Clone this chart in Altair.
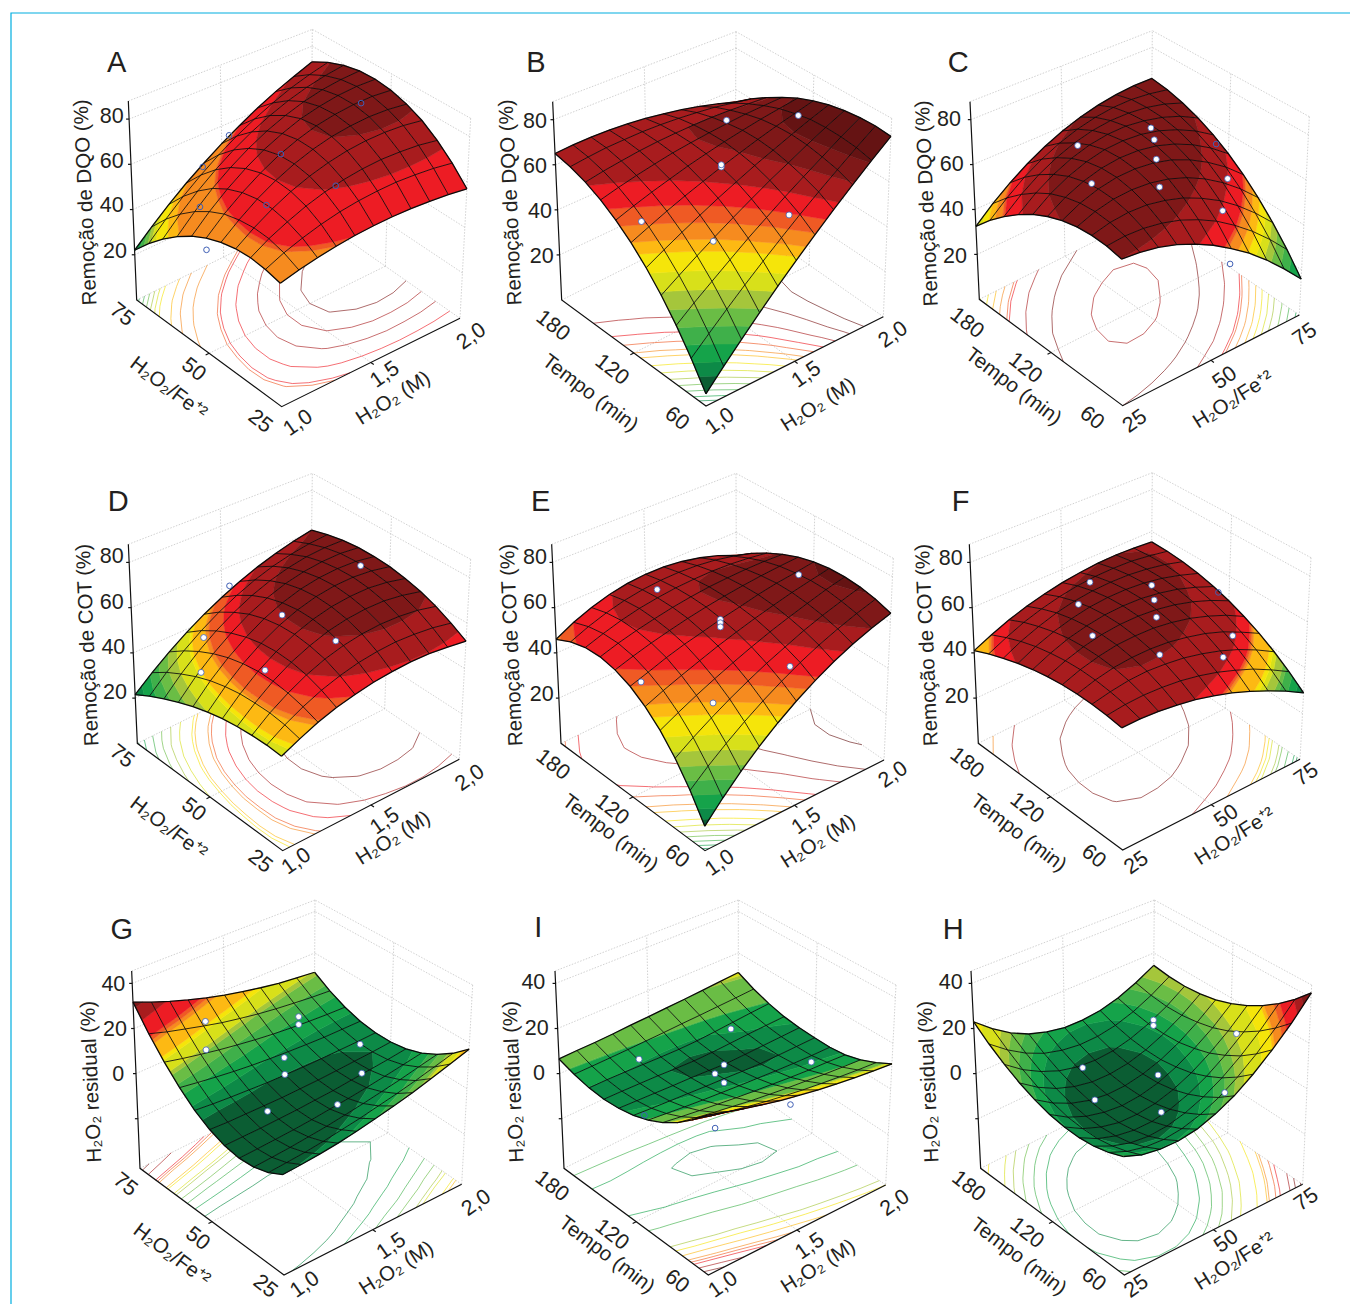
import altair as alt
import pandas as pd

# ---------- surface heights, rows run along the left floor axis, columns along the right floor axis ----------
Z_A = [[50.5,52.7,54.5,56,57.2,58,58.5,58.6,58.4,57.9,57],
[52.2,55.8,58.7,61.2,63.2,64.6,65.5,66,65.8,65.3,64.2],
[53,57.7,61.5,64.9,67.6,69.6,71,71.8,71.8,71.4,70.2],
[52.7,58.2,63,67.1,70.4,73,74.9,76,76.4,76.1,75],
[51.3,57.5,63.1,67.8,71.7,74.8,77.1,78.5,79.3,79.2,78.3],
[49,55.9,61.8,67,71.5,75,77.8,79.6,80.7,81.1,80.5],
[45.6,52.8,59.2,64.8,69.7,73.6,76.9,79.1,80.7,81.5,81.4],
[41.2,48.6,55.3,61.1,66.2,70.6,74.2,77.1,79.2,80.5,81.1],
[35.8,43.2,49.9,55.9,61.3,66,70,73.4,76.1,78.1,79.5],
[29.4,36.6,43.2,49.2,54.8,59.8,64.2,68.1,71.6,74.3,76.6],
[22,28.7,35.2,41.2,46.7,52,56.8,61.4,65.5,69.1,72.5]]
Z_B = [[5,12.7,20.3,27.9,35.5,43,50.5,57.9,65.3,72.7,80],
[15.3,22,28.7,35.4,42,48.6,55.2,61.6,68,74.4,80.7],
[24.7,30.6,36.2,41.9,47.7,53.2,58.8,64.2,69.6,75.2,80.5],
[33.1,38,42.9,47.7,52.5,57.2,61.9,66.3,70.9,75.4,79.7],
[40.5,44.7,48.8,52.8,56.8,60.6,64.4,67.9,71.5,75,78.3],
[47,50.4,53.8,57,60,63,65.8,68.6,71.2,73.6,76],
[52.5,55.3,57.9,60.3,62.7,64.8,66.8,68.6,70.3,71.7,73.1],
[57.1,59.2,61.1,62.8,64.4,65.6,66.7,67.6,68.4,68.9,69.3],
[60.7,62.2,63.4,64.5,65.3,65.8,66.1,66.2,66,65.5,64.9],
[63.3,64.3,65.1,65.4,65.6,65.4,64.9,64.1,63.1,61.5,59.9],
[65,65.5,65.7,65.5,64.9,64,62.7,61.1,59.1,56.7,54]]
Z_C = [[60,59.5,58.3,56.1,52.9,49,44.1,38.5,31.9,24.3,16],
[61.5,62.4,62.3,61.2,59.1,55.9,51.8,46.5,40.3,33,24.7],
[62,64.1,65.1,65,63.6,61.3,57.7,53.2,47.4,40.5,32.5],
[61.6,64.8,66.8,67.5,67.1,65.5,62.7,58.7,53.5,47.1,39.5],
[60.3,64.4,67.2,68.9,69.3,68.5,66.5,63.1,58.5,52.8,45.7],
[58,62.9,66.5,68.9,70.1,70,68.7,66.1,62.3,57.3,51],
[54.8,60.4,64.6,67.7,69.7,70.3,69.8,68,65,60.9,55.5],
[50.6,56.6,61.4,65.1,67.7,69.1,69.4,68.4,66.5,63.5,59.1],
[45.5,51.8,57.1,61.3,64.5,66.7,67.8,67.8,66.9,65,61.9],
[39.5,46,51.7,56.4,60.2,63.1,65.1,66.2,66.4,65.5,63.9],
[32.5,39.1,44.9,50,54.4,58,60.9,63,64.4,65.1,65]]
Z_D = [[38.5,42.2,45.6,48.3,50.3,52,53,53.7,53.7,53,52],
[39,43.9,48,51.5,54.2,56.3,57.6,58.3,58.1,57.4,55.9],
[38.9,44.8,49.7,53.9,57.2,59.6,61.2,62,61.9,61.1,59.3],
[38.4,44.8,50.6,55.3,58.9,61.8,63.6,64.6,64.7,63.7,61.9],
[37.5,44.5,50.7,55.7,59.8,62.9,65,66.1,66.4,65.5,63.7],
[36,43.4,49.8,55.2,59.6,63,65.4,66.8,67.2,66.6,65],
[34.1,41.7,48.2,53.7,58.4,62,64.7,66.3,67,66.8,65.5],
[31.6,39.2,45.7,51.3,56.2,60,63,64.9,66,66.3,65.5],
[28.7,36,42.4,48,52.8,56.9,60.1,62.5,64.1,64.8,64.7],
[25.4,32.3,38.3,43.8,48.6,52.7,56.2,59,61,62.4,63.1],
[21.5,27.7,33.4,38.6,43.3,47.5,51.2,54.4,57.1,59.3,61]]
Z_E = [[10,17.9,25.3,32.1,38.3,44,49.1,53.7,57.7,61.1,64],
[20.4,26.8,32.7,38.3,43.5,48.3,52.8,56.8,60.3,63.5,66.3],
[29.4,34.5,39.2,43.7,47.9,51.9,55.5,59.1,62.2,65,67.7],
[36.8,40.8,44.6,48.2,51.6,54.9,58,60.8,63.5,66.1,68.3],
[42.6,45.9,48.9,51.8,54.7,57.3,59.8,62.1,64.3,66.2,68.1],
[47,49.6,52.4,54.8,56.8,59,60.8,62.8,64.4,65.6,67],
[49.8,52.3,54.6,56.6,58.5,60.1,61.5,62.7,63.7,64.5,65.1],
[51.2,53.7,55.8,57.6,59.2,60.5,61.5,62.1,62.5,62.6,62.3],
[51,53.7,56.1,58,59.3,60.3,60.8,61,60.7,59.9,58.7],
[49.2,52.5,55.2,57.3,58.7,59.5,59.7,59.3,58.3,56.6,54.3],
[46,50.1,53.3,55.7,57.3,58,57.9,56.9,55.1,52.5,49]]
Z_F = [[50,50.3,49.9,49.1,47.9,46,43.7,40.7,37.3,33.5,29],
[51.1,52.2,52.7,52.5,51.8,50.4,48.4,45.7,42.6,38.6,34.1],
[51.7,53.5,54.8,55.3,54.9,54,52.3,50,47,43.2,38.7],
[51.9,54.4,56.2,57.1,57.3,56.8,55.4,53.5,50.7,46.9,42.7],
[51.7,54.7,56.9,58.4,58.9,58.8,57.8,56.1,53.5,50.3,46.1],
[51,54.4,57,58.8,59.8,60,59.4,58,55.8,52.8,49],
[49.9,53.5,56.5,58.5,59.9,60.4,60.2,59.1,57.3,54.6,51.3],
[48.3,52.2,55.2,57.5,59.2,60,60.1,59.5,58.1,55.9,53.1],
[46.3,50.2,53.3,55.9,57.7,58.8,59.2,59,58.1,56.6,54.3],
[43.9,47.6,50.9,53.4,55.4,56.8,57.6,57.8,57.5,56.4,54.9],
[41,44.5,47.7,50.3,52.3,54,55.1,55.9,56.1,55.7,55]]
Z_G = [[-1.3,-.6,.3,1.4,2.9,4.7,6.7,8.9,11.5,14.3,17.3],
[-4.5,-3.8,-3,-1.9,-.5,.9,2.7,4.5,6.6,9,11.5],
[-6.3,-5.7,-5,-4.1,-3.1,-1.8,-.4,1.2,2.9,4.9,6.9],
[-6.7,-6.3,-5.8,-5.2,-4.4,-3.4,-2.4,-1.2,.2,1.7,3.3],
[-5.6,-5.4,-5.2,-4.8,-4.4,-3.7,-3.1,-2.1,-1.2,-.2,1],
[-3,-3.3,-3.3,-3.3,-3.3,-3,-2.7,-2.2,-1.6,-1,-.2],
[1,.3,-.2,-.6,-1,-1.1,-1.2,-1.1,-.9,-.7,-.3],
[6.6,5.4,4.3,3.3,2.5,1.9,1.4,1,.7,.7,.7],
[13.5,11.7,10.1,8.6,7.3,6.1,5.1,4.3,3.7,3.2,2.9],
[21.8,19.3,17.2,15.1,13.1,11.5,10,8.8,7.8,6.9,6.2],
[31.7,28.4,25.4,22.7,20.2,18,16.1,14.3,12.8,11.7,10.7]]
Z_I = [[22.8,20.8,19,17.4,15.9,14.7,13.6,12.7,12,11.4,11],
[17,15.4,14,12.7,11.5,10.5,9.6,8.9,8.3,7.8,7.5],
[12,10.8,9.7,8.8,7.8,7.1,6.4,5.9,5.3,4.9,4.6],
[8.1,7.2,6.4,5.7,5,4.4,3.9,3.4,3,2.9,2.6],
[5.1,4.5,3.9,3.4,3,2.6,2.3,2,1.8,1.7,1.8],
[3,2.6,2.3,2,1.7,1.5,1.2,1,1.2,1.5,1.8],
[1.9,1.7,1.5,1.3,1.2,.9,.6,.9,1.3,1.7,2.1],
[1.6,1.6,1.5,1.4,1.1,.9,1.1,1.6,2.1,2.5,2.9],
[2.3,2.4,2.3,2.1,1.9,1.8,2,2.6,3.3,4,4.6],
[4,4.1,4.3,4.5,4.8,5.1,5.5,5.8,6.2,6.6,7.1],
[6.5,6.8,6.9,7.2,7.7,8,8.5,8.9,9.4,10,10.6]]
Z_H = [[6,3.3,2.3,2.4,3.8,6.8,11,16.8,23.9,32.1,42],
[3.7,.8,-.8,-1.1,0,2.5,6.3,11.6,18.2,26.1,35.4],
[2.3,-1,-3.1,-3.8,-3,-.9,2.5,7.2,13.3,20.8,29.6],
[1.8,-2,-4.3,-5.4,-5.2,-3.5,-.5,3.8,9.5,16.4,24.7],
[2.2,-1.9,-4.7,-6.3,-6.3,-5.2,-2.7,1.1,6.3,12.7,20.6],
[3.4,-1.2,-4.3,-6.1,-6.8,-6,-4,-.5,4.2,10,17.4],
[5.6,.7,-2.9,-5.2,-6.2,-5.9,-4.3,-1.5,2.7,8.3,15],
[8.6,3.3,-.7,-3.4,-4.9,-5,-3.9,-1.4,2.3,7.2,13.5],
[12.5,6.8,2.5,-.7,-2.6,-3.2,-2.6,-.6,2.6,7,12.8],
[17.3,11.3,6.4,2.8,.6,-.5,-.3,1.1,3.8,7.8,13],
[23,16.6,11.2,7.2,4.6,3,2.8,3.6,5.8,9.4,14]]

# experiment points: (position on left axis, position on right axis, height)
PTS_A = [(.5,.84,80),(.95,.5,58),(.5,.41,71.6),(.75,.19,63),(.6,.05,56.5),(.25,.5,65),(.5,.33,52),(.5,0,44)]
PTS_B = [(.8,.78,62),(.5,.92,72),(.5,.5,63),(.5,.5,64),(.5,.06,54),(.1,.54,57),(.3,.29,46)]
PTS_C = [(.9,.5,55.6),(.9,.91,49),(.75,.8,54),(.5,.6,62.7),(.5,.245,64),(.25,.41,67),(.5,1,39.5),(.25,.76,44.5)]
PTS_D = [(.5,.84,71),(.5,.415,63.6),(.75,.19,51),(.25,.5,59.6),(.5,.32,42.8),(.6,.05,47)]
PTS_E = [(.9,.48,56),(.5,.92,64),(.5,.495,58.9),(.5,.495,57.4),(.5,.495,55.6),(.25,.67,42.5),(.5,.06,46.8),(.25,.25,41.7)]
PTS_F = [(.9,.57,56),(.9,.915,42),(.75,.8,46),(.75,.38,59),(.5,.6,56),(.5,.25,60),(.25,.41,56.5),(.4,.94,39.6),(.25,.76,43)]
PTS_G = [(.75,.7,11.6),(.75,.7,8),(.75,.19,27),(.75,.19,14.5),(.75,.62,-4.2),(.65,.54,-4.5),(.5,.83,5),(.35,.715,2.5),(.5,.32,-6.4),(.25,.5,.6)]
PTS_I = [(.9,.36,-2),(.7,.705,8),(.25,.77,9.7),(.5,.5,7.6),(.5,.45,5.4),(.5,.5,-.3)]
PTS_H = [(.75,.785,7),(.75,.785,4.5),(.3,.86,17),(.75,.39,-.4),(.5,.6,-.5),(.25,.76,-3.5),(.5,.25,1),(.25,.41,.5)]
OPEN_C = [(.5,.93,58),(.25,.81,19)]
OPEN_D = [(.9,.46,58.4)]
OPEN_F = [(.5,.94,55)]
OPEN_I = [(.5,.06,1),(.5,.45,-18.4),(.25,.66,-5)]

# ---------- colour bands ----------
PALETTE = ['#0b5d33','#0d8a47','#15a34a','#3fb04a','#6abd45','#a5c63b','#d8e01a','#f5e50a',
           '#fdb913','#f68b1f','#ef5a24','#ed1c24','#a81c1e','#7f1818','#651313']
LEVELS_A = [21,23,25,27,29,31,33,38,42,56,57,68,77,90]
LEVELS_B = [10,14,19,24,29,34,39,44,47,51,55,60,66,72]
LEVELS_C = [14,18,22,26,30,33,36,39,42,45,46,52,60,90]
LEVELS_D = [22,24,27,30,33,36,40,41,45,46,50,54,61,90]
LEVELS_E = [12,15,19,23,27,31,35,40,43,47,50,56,61,67]
LEVELS_F = [30,31,33,35,36,38,39,40,44,44.5,45,48,56,90]
LEVELS_G = [-1,2,5,7.5,10,11,14,15,19,20,21,26,30,36]
LEVELS_I = [1.2,2.4,4.8,4.9,9.5,10,11,13,15,16,17,19,21,25]
LEVELS_H = [-2,2,5,8,11,14,20,24,25,28,30,35,38,41]
EXTRA_CONTOURS = {'A': [(47,'#f68b1f'),(62,'#ed1c24'),(73,'#a81c1e')], 'C': [(68,'#a81c1e')]}

DQO = 'Remoção de DQO (%)'; COT = 'Remoção de COT (%)'; RES = 'H₂O₂ residual (%)'
RATIO = 'H₂O₂/Fe⁺²'; MOL = 'H₂O₂ (M)'; TEMPO = 'Tempo (min)'
RAT_T = ['25','50','75']; MOL_T = ['1,0','1,5','2,0']; TEM_T = ['60','120','180']

# ---------- panel layout, in crop coordinates (crop origin + 3 x px) ----------
PANELS = [
 dict(name='A',o=(60,20),Z=Z_A,L=LEVELS_A,pts=PTS_A,open=PTS_A,F=(665,1160),Lf=(230,840),R=(1200,895),B=(752,582),Lt=(205,243),Rt=(1232,295),Bt=(757,28),Ft=(658,515),
  zr=(0,88),zt=[20,40,60,80],zl=[(165,695),(155,558),(155,425),(155,290)],title=DQO,tp=(78,547),let=(170,130),
  lt=RAT_T,lp=[(600,1205),(400,1050),(185,885)],lti=RATIO,lpt=(325,1105),rt=MOL_T,rp=[(715,1210),(975,1065),(1235,950)],rti=MOL,rpt=(1000,1135)),
 dict(name='B',o=(490,20),Z=Z_B,L=LEVELS_B,pts=PTS_B,open=[],F=(648,1158),Lf=(215,840),R=(1180,890),B=(735,580),Lt=(188,245),Rt=(1205,295),Bt=(738,35),Ft=(643,513),
  zr=(0,88),zt=[20,40,60,80],zl=[(155,710),(150,575),(135,440),(135,305)],title=DQO,tp=(63,547),let=(138,128),
  lt=TEM_T,lp=[(560,1197),(365,1050),(188,918)],lti=TEMPO,lpt=(300,1120),rt=MOL_T,rp=[(690,1205),(950,1065),(1210,945)],rti=MOL,rpt=(985,1155)),
 dict(name='C',o=(910,20),Z=Z_C,L=LEVELS_C,pts=PTS_C,open=OPEN_C,F=(638,1157),Lf=(208,838),R=(1168,885),B=(722,580),Lt=(180,245),Rt=(1198,290),Bt=(727,32),Ft=(633,512),
  zr=(0,88),zt=[20,40,60,80],zl=[(135,710),(125,570),(125,435),(117,300)],title=DQO,tp=(52,550),let=(145,130),
  lt=TEM_T,lp=[(545,1195),(345,1045),(170,910)],lti=TEMPO,lpt=(310,1100),rt=RAT_T,rp=[(675,1205),(945,1075),(1185,945)],rti=RATIO,rpt=(970,1140)),
 dict(name='D',o=(60,460),Z=Z_D,L=LEVELS_D,pts=PTS_D,open=OPEN_D,F=(668,1172),Lf=(232,850),R=(1198,898),B=(750,595),Lt=(205,253),Rt=(1232,298),Bt=(757,40),Ft=(660,525),
  zr=(0,88),zt=[20,40,60,80],zl=[(165,700),(160,565),(155,428),(155,290)],title=COT,tp=(84,555),let=(175,125),
  lt=RAT_T,lp=[(600,1205),(400,1050),(185,890)],lti=RATIO,lpt=(325,1105),rt=MOL_T,rp=[(710,1205),(975,1085),(1230,955)],rti=MOL,rpt=(1000,1135)),
 dict(name='E',o=(490,460),Z=Z_E,L=LEVELS_E,pts=PTS_E,open=[],F=(645,1172),Lf=(213,850),R=(1182,900),B=(740,595),Lt=(185,253),Rt=(1210,295),Bt=(738,40),Ft=(640,525),
  zr=(0,88),zt=[20,40,60,80],zl=[(155,705),(150,567),(135,430),(135,295)],title=COT,tp=(66,555),let=(152,125),
  lt=TEM_T,lp=[(560,1190),(365,1050),(188,915)],lti=TEMPO,lpt=(360,1120),rt=MOL_T,rp=[(690,1210),(950,1085),(1210,945)],rti=MOL,rpt=(985,1145)),
 dict(name='F',o=(910,460),Z=Z_F,L=LEVELS_F,pts=PTS_F,open=OPEN_F,F=(638,1170),Lf=(205,850),R=(1170,898),B=(722,592),Lt=(178,253),Rt=(1203,293),Bt=(727,38),Ft=(633,525),
  zr=(0,88),zt=[20,40,60,80],zl=[(140,710),(135,570),(128,435),(122,298)],title=COT,tp=(52,555),let=(152,125),
  lt=TEM_T,lp=[(550,1190),(350,1045),(170,910)],lti=TEMPO,lpt=(325,1120),rt=RAT_T,rp=[(680,1210),(950,1070),(1190,945)],rti=RATIO,rpt=(975,1130)),
 dict(name='G',o=(60,885),Z=Z_G,L=LEVELS_G,pts=PTS_G,open=[],F=(672,1170),Lf=(240,850),R=(1205,898),B=(762,590),Lt=(215,258),Rt=(1238,300),Bt=(765,45),Ft=(665,522),
  zr=(-42,45.5),zt=[-20,0,20,40],zl=[None,(175,570),(165,435),(160,300)],title=RES,tp=(95,590),let=(185,135),
  lt=RAT_T,lp=[(615,1205),(412,1062),(195,900)],lti=RATIO,lpt=(335,1110),rt=MOL_T,rp=[(735,1200),(995,1085),(1250,955)],rti=MOL,rpt=(1010,1150)),
 dict(name='I',o=(490,885),Z=Z_I,L=LEVELS_I,pts=PTS_I,open=OPEN_I,F=(655,1170),Lf=(222,850),R=(1187,900),B=(745,590),Lt=(195,258),Rt=(1218,300),Bt=(745,45),Ft=(650,522),
  zr=(-42,45.5),zt=[-20,0,20,40],zl=[None,(147,568),(140,432),(130,295)],title=RES,tp=(72,590),let=(145,130),
  lt=TEM_T,lp=[(560,1190),(365,1050),(185,905)],lti=TEMPO,lpt=(350,1110),rt=MOL_T,rp=[(700,1200),(960,1085),(1215,955)],rti=MOL,rpt=(985,1145)),
 dict(name='H',o=(910,885),Z=Z_H,L=LEVELS_H,pts=PTS_H,open=[],F=(643,1170),Lf=(212,850),R=(1178,898),B=(728,590),Lt=(183,258),Rt=(1205,300),Bt=(733,45),Ft=(638,522),
  zr=(-42,45.5),zt=[-20,0,20,40],zl=[None,(137,568),(132,432),(122,295)],title=RES,tp=(57,590),let=(130,135),
  lt=TEM_T,lp=[(550,1185),(350,1045),(175,905)],lti=TEMPO,lpt=(325,1115),rt=RAT_T,rp=[(680,1205),(950,1070),(1190,945)],rti=RATIO,rpt=(975,1130)),
]

def px(p, c):
    return (p['o'][0] + c[0] / 3, p['o'][1] + c[1] / 3)

def project(p, u, v, z):
    w = (z - p['zr'][0]) / (p['zr'][1] - p['zr'][0])
    def bil(a, b, c, d):
        return tuple((1-u)*(1-v)*a[k] + u*(1-v)*b[k] + (1-u)*v*c[k] + u*v*d[k] for k in (0, 1))
    lo = bil(p['F'], p['Lf'], p['R'], p['B'])
    hi = bil(p['Ft'], p['Lt'], p['Rt'], p['Bt'])
    return px(p, (lo[0] + w*(hi[0]-lo[0]), lo[1] + w*(hi[1]-lo[1])))

def clip(poly, level, keep_above):
    out = []
    n = len(poly)
    for k in range(n):
        a, b = poly[k], poly[(k+1) % n]
        ia = (a[2] >= level) == keep_above
        ib = (b[2] >= level) == keep_above
        if ia:
            out.append(a)
        if ia != ib:
            t = (level - a[2]) / (b[2] - a[2])
            out.append(tuple(a[m] + t*(b[m]-a[m]) for m in range(3)))
    return out

polys, mesh, contours, guides, axes, solid_pts, open_pts, texts, gid = [], [], [], [], [], [], [], [], 0

def line(store, pts, **extra):
    global gid
    gid += 1
    for n, (x, y) in enumerate(pts):
        store.append(dict(g=f'g{gid}', n=n, x=round(x, 2), y=round(y, 2), **extra))

FONT_NUM, FONT_TITLE, FONT_LET = 21.5, 20.5, 29
for p in PANELS:
    Z, lev = p['Z'], p['L']
    N = len(Z) - 1
    # floor contours (bands thinner than one unit get no line of their own)
    clines = [(level, PALETTE[k + 1]) for k, level in enumerate(lev) if not (k and level - lev[k-1] < 1)]
    clines += EXTRA_CONTOURS.get(p['name'], [])
    for level, col in clines:
        for i in range(N):
            for j in range(N):
                q = [(i/N, j/N, Z[i][j]), ((i+1)/N, j/N, Z[i+1][j]), ((i+1)/N, (j+1)/N, Z[i+1][j+1]), (i/N, (j+1)/N, Z[i][j+1])]
                cross = []
                for m in range(4):
                    a, b = q[m], q[(m+1) % 4]
                    if (a[2] >= level) != (b[2] >= level):
                        t = (level - a[2]) / (b[2] - a[2])
                        cross.append((a[0] + t*(b[0]-a[0]), a[1] + t*(b[1]-a[1])))
                for s in range(0, len(cross) - 1, 2):
                    line(contours, [project(p, c[0], c[1], p['zr'][0]) for c in cross[s:s+2]], c=col)
    # box guides
    z0, z1 = p['zr']
    for a, b in [((1,0,z1),(1,1,z1)), ((0,1,z1),(1,1,z1)), ((1,1,z0),(1,1,z1)), ((1,0,z0),(1,1,z0)), ((0,1,z0),(1,1,z0)),
                 ((.5,1,z0),(.5,1,z1)), ((1,.5,z0),(1,.5,z1)), ((0,1,z1),(0,1,z0)),
                 ((.5,0,z0),(.5,1,z0)), ((0,.5,z0),(1,.5,z0))]:
        line(guides, [project(p, *a), project(p, *b)])
    for zt in p['zt']:
        line(guides, [project(p, 1, 0, zt), project(p, 1, 1, zt)])
        line(guides, [project(p, 0, 1, zt), project(p, 1, 1, zt)])
    # axes
    line(axes, [project(p, 1, 0, z1), project(p, 1, 0, z0), project(p, 0, 0, z0), project(p, 0, 1, z0)])
    for zt in p['zt']:
        a = project(p, 1, 0, zt)
        line(axes, [a, (a[0] - 3, a[1])])
    for a, b in [((.5,0),(.5,-.02)), ((0,.5),(-.02,.5))]:
        line(axes, [project(p, a[0], a[1], z0), project(p, b[0], b[1], z0)])
    # surface, far cells first
    cells = sorted(((i, j) for i in range(N) for j in range(N)), key=lambda c: -(c[0] + c[1]))
    bounds = [-1e9] + lev + [1e9]
    for i, j in cells:
        q = [(i/N, j/N, Z[i][j]), ((i+1)/N, j/N, Z[i+1][j]), ((i+1)/N, (j+1)/N, Z[i+1][j+1]), (i/N, (j+1)/N, Z[i][j+1])]
        for k, col in enumerate(PALETTE):
            piece = clip(clip(q, bounds[k], True), bounds[k+1], False)
            if len(piece) >= 3:
                line(polys, [project(p, *v) for v in piece], c=col)
    for i in range(N + 1):
        w = 1.3 if i in (0, N) else .85
        line(mesh, [project(p, i/N, j/N, Z[i][j]) for j in range(N + 1)], w=w)
        line(mesh, [project(p, j/N, i/N, Z[j][i]) for j in range(N + 1)], w=w)
    # points
    for pt in p['pts']:
        x, y = project(p, *pt)
        (open_pts if p['name'] == 'A' else solid_pts).append(dict(x=x, y=y))
    if p['name'] != 'A':
        for pt in p['open']:
            x, y = project(p, *pt)
            open_pts.append(dict(x=x, y=y))
    # text
    def T(t, c, a, s):
        x, y = px(p, c)
        texts.append(dict(t=t, x=x, y=y, a=a, s=s))
    T(p['name'], p['let'], 0, FONT_LET)
    for zt, c in zip(p['zt'], p['zl']):
        if c:
            T(str(zt), c, 0, FONT_NUM)
    T(p['title'], p['tp'], 267.5, FONT_TITLE)
    for t, c in zip(p['lt'], p['lp']):
        T(t, c, 38, FONT_NUM)
    for t, c in zip(p['rt'], p['rp']):
        T(t, c, 325, FONT_NUM)
    T(p['lti'], p['lpt'], 37, FONT_TITLE)
    T(p['rti'], p['rpt'], 328, FONT_TITLE)

FRAME_X = [11, 11, 1350]
FRAME_Y = [1304, 13, 13]
frame = pd.DataFrame({'x': FRAME_X, 'y': FRAME_Y, 'n': range(3)})

W, H = 1342, 1296
X = alt.X('x:Q', scale=alt.Scale(domain=[8, 8 + W], nice=False, zero=False), axis=None)
Y = alt.Y('y:Q', scale=alt.Scale(domain=[8 + H, 8], nice=False, zero=False), axis=None)
ORD = alt.Order('n:Q')

layers = [
    alt.Chart(frame).mark_line(color='#00aee0', strokeWidth=1.2).encode(x=X, y=Y, order=ORD),
    alt.Chart(pd.DataFrame(guides)).mark_line(color='#bdbdbd', strokeWidth=.7, strokeDash=[1.5, 1.5]).encode(x=X, y=Y, detail='g:N', order=ORD),
    alt.Chart(pd.DataFrame(contours)).mark_line(strokeWidth=.8, opacity=.8).encode(x=X, y=Y, detail='g:N', order=ORD, color=alt.Color('c:N', scale=None)),
    alt.Chart(pd.DataFrame(axes)).mark_line(color='#111111', strokeWidth=1.2).encode(x=X, y=Y, detail='g:N', order=ORD),
    alt.Chart(pd.DataFrame(polys)).mark_line(filled=True, interpolate='linear-closed', strokeWidth=.5).encode(
        x=X, y=Y, detail='g:N', order=ORD, color=alt.Color('c:N', scale=None), stroke=alt.Stroke('c:N', scale=None)),
    alt.Chart(pd.DataFrame(mesh)).mark_line(color='#0a0a0a').encode(
        x=X, y=Y, detail='g:N', order=ORD, strokeWidth=alt.StrokeWidth('w:Q', scale=None)),
    alt.Chart(pd.DataFrame(open_pts)).mark_point(filled=False, color='#3f5fb5', size=32, strokeWidth=1, opacity=1).encode(x=X, y=Y),
    alt.Chart(pd.DataFrame(solid_pts)).mark_point(filled=False, fill='white', stroke='#3f5fb5', size=36, strokeWidth=.8, opacity=1, fillOpacity=1).encode(x=X, y=Y),
    alt.Chart(pd.DataFrame(texts)).mark_text(font='Liberation Sans', color='#231f20', align='center', baseline='middle').encode(
        x=X, y=Y, text='t:N', angle=alt.Angle('a:Q', scale=None), size=alt.Size('s:Q', scale=None)),
]
chart = alt.layer(*layers).properties(width=W, height=H, padding=0, autosize='none', background='white').configure_view(stroke=None)
chart.save("out.html", embed_options={"renderer": "svg", "actions": False})
